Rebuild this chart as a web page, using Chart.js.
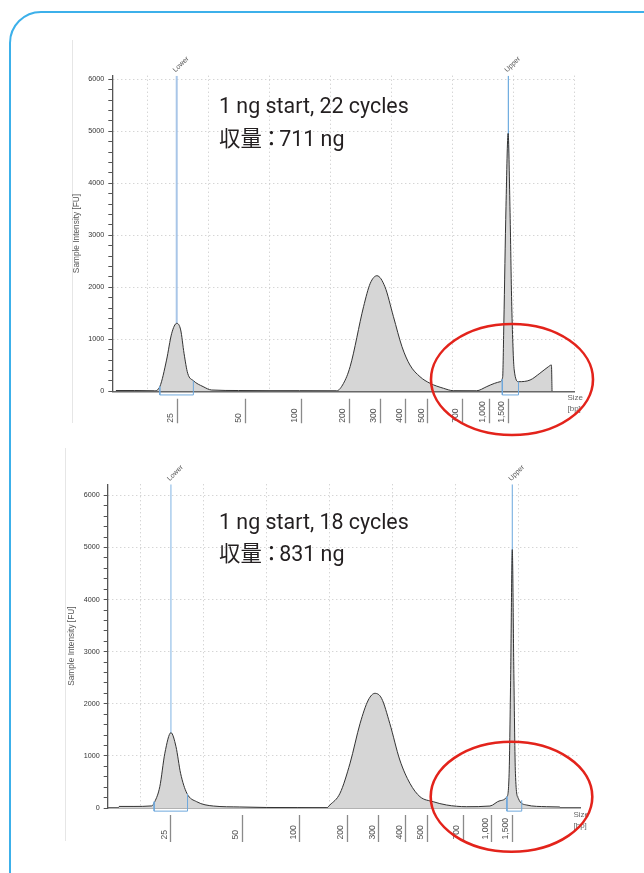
<!DOCTYPE html>
<html><head><meta charset="utf-8">
<script src="https://cdn.jsdelivr.net/npm/chart.js@4/dist/chart.umd.min.js"></script>
<style>
html,body{margin:0;padding:0;width:644px;height:873px;overflow:hidden;background:#fff;}
#frame{position:absolute;left:8.5px;top:10.5px;width:700px;height:900px;border:2px solid #3cb0ea;border-radius:32px;box-sizing:border-box;}
.edge{position:absolute;width:1px;background:#e6e6e6;}
.cv{position:absolute;left:0;}
.ann{position:absolute;left:219px;font-family:Roboto,"Noto Sans CJK JP",sans-serif;font-size:21.4px;line-height:21px;color:#231f20;white-space:nowrap;}
.colon{margin:0 -3px 0 -1px;}
</style></head><body>
<div id="frame"></div>
<div class="edge" style="left:72px;top:40px;height:383px;"></div>
<div class="edge" style="left:65px;top:448px;height:393px;"></div>
<canvas id="c1" class="cv" style="top:0px;width:644px;height:440px;" width="644" height="440"></canvas>
<canvas id="c2" class="cv" style="top:440px;width:644px;height:433px;" width="644" height="433"></canvas>
<div class="ann" id="a1l1" style="top:95.4px;"></div>
<div class="ann" id="a1l2" style="top:128.1px;"></div>
<div class="ann" id="a2l1" style="top:511.4px;"></div>
<div class="ann" id="a2l2" style="top:542.8px;"></div>
<script>
// ---------- data ----------
const ladderLabels = ['25','50','100','200','300','400','500','700','1,000','1,500'];
const yTitle = 'Sample Intensity [FU]';
const markerNames = ['Lower','Upper'];
const yMajor = [0, 1000, 2000, 3000, 4000, 5000, 6000];
const yMinorStep = 200;

// run 1: 22 cycles (x = migration position units)
const run1Ladder = [14.92, 26.11, 35.30, 43.16, 48.20, 52.43, 56.02, 61.69, 66.16, 69.23];
const run1X = [4.9, 8, 11.2, 12.1, 13.2, 14.05, 14.87, 15.52, 16.07, 16.67, 17.6, 19.2, 20.6, 25, 30, 35, 41.1, 42.2, 43.3, 45.5, 46.6, 47.7, 49.0, 50.4, 51.8, 53.1, 54.75, 56.4, 58.6, 60.2, 64.0, 65.7, 67.0, 67.9, 68.3, 68.5, 68.85, 69.2, 69.5, 69.8, 70.2, 70.9, 72.8, 74.4, 75.8, 76.3, 76.4];
const run1Y = [15, 15, 10, 90, 600, 1115, 1307, 1180, 730, 346, 204, 90, 25, 15, 12, 12, 10, 150, 475, 1627, 2077, 2223, 2012, 1435, 858, 506, 281, 154, 58, 12, 10, 90, 154, 185, 270, 1313, 3550, 4960, 3550, 1627, 410, 185, 217, 346, 473, 506, 0];
const run1Markers = [14.87, 69.23];
const run1BoxX = [[12.1, 17.6], [68.25, 70.9]];
const run1BoxTop = [[90, 204], [230, 185]];
const run1Text = ['1 ng start, 22 cycles', '収量：711 ng'];

// run 2: 18 cycles
const run2Ladder = [14.87, 26.19, 35.35, 42.86, 47.84, 52.13, 55.56, 61.27, 65.78, 69.05];
const run2X = [6.6, 9, 11.8, 12.3, 13.1, 13.9, 14.87, 15.67, 16.4, 17.4, 18.95, 21.6, 25.8, 30, 35, 39.6, 40.1, 41.7, 43.3, 44.9, 46.2, 47.25, 48.3, 49.6, 51.2, 52.8, 54.4, 56.5, 58.6, 61.8, 65.5, 67.1, 68.2, 68.55, 68.8, 69.05, 69.3, 69.55, 70.0, 71.3, 74.5, 76.6];
const run2Y = [30, 30, 40, 121, 409, 1050, 1446, 1177, 666, 282, 121, 38, 20, 10, 8, 5, 58, 282, 860, 1626, 2073, 2201, 2105, 1626, 921, 474, 217, 121, 58, 25, 38, 140, 217, 666, 2585, 4960, 2585, 666, 186, 58, 25, 20];
const run2Markers = [14.87, 69.05];
const run2BoxX = [[12.2, 17.5], [68.2, 70.55]];
const run2BoxTop = [[121, 270], [217, 150]];
const run2Text = ['1 ng start, 18 cycles', '収量：831 ng'];

// ---------- annotation text ----------
function setText(id, s) {
  const el = document.getElementById(id);
  const parts = s.split('：');
  el.textContent = '';
  parts.forEach((p, i) => {
    el.appendChild(document.createTextNode(p));
    if (i < parts.length - 1) { const sp = document.createElement('span'); sp.className = 'colon'; sp.textContent = '：'; el.appendChild(sp); }
  });
}
setText('a1l1', run1Text[0]); setText('a1l2', run1Text[1]);
setText('a2l1', run2Text[0]); setText('a2l2', run2Text[1]);

// ---------- decoration plugin ----------
const decor = {
  id: 'decor',
  afterDraw(chart, args, o) {
    const ctx = chart.ctx, ca = chart.chartArea, xs = chart.scales.xbp, xm = chart.scales.x;
    ctx.save();
    ctx.font = '8.6px "Liberation Sans", Arial, sans-serif';
    ctx.fillStyle = '#555'; ctx.textAlign = 'left'; ctx.textBaseline = 'middle';
    o.ladder.forEach((v, i) => {
      const px = xs.getPixelForValue(v);
      ctx.save(); ctx.translate(px - 6.5, ca.bottom + 31.5); ctx.rotate(-Math.PI / 2);
      ctx.fillText(ladderLabels[i], 0, 0); ctx.restore();
    });
    ctx.font = '7px "Liberation Sans", Arial, sans-serif'; ctx.fillStyle = '#555';
    o.markers.forEach((v, i) => {
      const px = xm.getPixelForValue(v);
      ctx.save(); ctx.translate(px - 2.5, ca.top - 4.5); ctx.rotate(-Math.PI / 4);
      ctx.fillText(markerNames[i], 0, 0); ctx.restore();
    });
    ctx.font = '8px "Liberation Sans", Arial, sans-serif'; ctx.fillStyle = '#666';
    ctx.textAlign = 'left'; ctx.textBaseline = 'middle';
    ctx.fillText('Size', ca.right - 6.5, ca.bottom + 6.5);
    ctx.fillText('[bp]', ca.right - 6.5, ca.bottom + 17.7);
    const e = o.ellipse;
    ctx.beginPath(); ctx.ellipse(e.cx, e.cy, e.rx, e.ry, 0, 0, Math.PI * 2);
    ctx.strokeStyle = '#e3231b'; ctx.lineWidth = 2.6; ctx.stroke();
    ctx.restore();
  }
};

function yTicks() {
  const out = [];
  for (let v = yMajor[0]; v <= yMajor[yMajor.length - 1]; v += yMinorStep) out.push({value: v});
  return out;
}

function build(canvasId, c) {
  const datasets = [];
  datasets.push({
    data: c.x.map((x, i) => ({x: x, y: c.y[i]})),
    borderColor: '#333', borderWidth: 1, backgroundColor: '#d6d6d6', fill: 'origin',
    pointRadius: 0, cubicInterpolationMode: 'monotone', order: 1
  });
  c.markers.forEach((m, i) => {
    datasets.push({
      data: [{x: m, y: 0}, {x: m, y: c.ymax}], borderColor: c.markerColors[i], borderWidth: c.markerWidths[i],
      pointRadius: 0, fill: false, order: 2, tension: 0
    });
  });
  c.boxX.forEach((b, i) => {
    datasets.push({
      data: [{x: b[0], y: c.boxTop[i][0]}, {x: b[0], y: c.boxBottom}, {x: b[1], y: c.boxBottom}, {x: b[1], y: c.boxTop[i][1]}],
      borderColor: '#6fa8dc', borderWidth: 1, pointRadius: 0, fill: false, order: 0, tension: 0, clip: false
    });
  });
  return new Chart(document.getElementById(canvasId), {
    type: 'line',
    data: {datasets: datasets},
    options: {
      responsive: false, animation: false, events: [],
      layout: {padding: c.padding},
      plugins: {legend: {display: false}, tooltip: {enabled: false},
        decor: {ladder: c.ladder, markers: c.markers, ellipse: c.ellipse}},
      scales: {
        x: {
          type: 'linear', position: 'bottom', min: c.xmin, max: c.xmax,
          ticks: {display: false, stepSize: 10, includeBounds: false},
          grid: {color: '#c4c4c4', lineWidth: 1, drawTicks: false},
          border: {color: '#666', width: 1.5, dash: [1, 3]},
          afterFit: s => { s.height = 0; }
        },
        xbp: {
          type: 'linear', position: 'bottom', min: c.xmin, max: c.xmax,
          afterBuildTicks: s => { s.ticks = c.ladder.map(v => ({value: v})); },
          ticks: {display: false},
          grid: {drawOnChartArea: false, drawTicks: true, tickLength: 36, tickColor: '#8a8a8a', tickWidth: 1.3,
                 tickBorderDash: c.tickDash, color: 'rgba(0,0,0,0)'},
          border: {display: false},
          afterFit: s => { s.height = c.xAxisH; }
        },
        y: {
          type: 'linear', min: 0, max: c.ymax,
          afterBuildTicks: s => { s.ticks = yTicks(); },
          ticks: {autoSkip: false, padding: 4, color: '#333',
                  font: {family: '"Liberation Sans", Arial, sans-serif', size: 7.2},
                  callback: v => (yMajor.indexOf(Math.round(v)) >= 0 ? String(Math.round(v)) : '')},
          grid: {color: g => (g.tick && yMajor.indexOf(Math.round(g.tick.value)) > 0) ? '#c4c4c4' : 'rgba(0,0,0,0)',
                 tickColor: '#555', tickLength: 4, tickWidth: 1, tickBorderDash: [], lineWidth: 1},
          border: {color: '#555', width: 1.3, dash: [1, 3]},
          title: {display: true, text: yTitle, color: '#555',
                  font: {family: '"Liberation Sans", Arial, sans-serif', size: 8.3}, padding: {top: c.titlePad, bottom: 0}},
          afterFit: s => { s.width = c.yAxisW; }
        }
      }
    },
    plugins: [decor]
  });
}

build('c1', {
  x: run1X, y: run1Y, ladder: run1Ladder, markers: run1Markers, boxX: run1BoxX, boxTop: run1BoxTop,
  boxBottom: -70, ymax: 6070, xmin: 4.31, xmax: 80,
  markerColors: ['#a9c6e8', '#4f9ad9'], markerWidths: [2, 1],
  padding: {left: 0, top: 75.7, right: 70, bottom: 0}, yAxisW: 112.3, xAxisH: 48.7, titlePad: 71.7,
  tickDash: [0, 7.7, 24.5, 200],
  ellipse: {cx: 512, cy: 379.5, rx: 81, ry: 55.5}
});
build('c2', {
  x: run2X, y: run2Y, ladder: run2Ladder, markers: run2Markers, boxX: run2BoxX, boxTop: run2BoxTop,
  boxBottom: -60, ymax: 6213, xmin: 4.83, xmax: 79.8,
  markerColors: ['#7fb3e3', '#6aa7de'], markerWidths: [1, 1],
  padding: {left: 0, top: 44.3, right: 64, bottom: 0}, yAxisW: 107.7, xAxisH: 65, titlePad: 66.7,
  tickDash: [0, 7, 27, 200],
  ellipse: {cx: 511.5, cy: 356.7, rx: 80.8, ry: 55}
});
</script>
</body></html>
